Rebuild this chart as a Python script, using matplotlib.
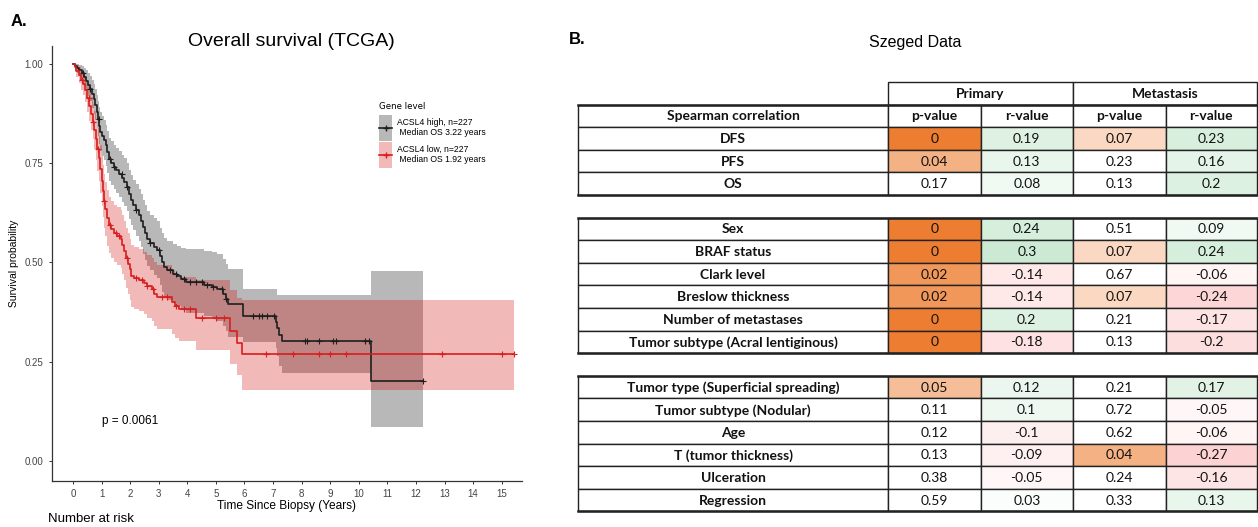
import numpy as np
import matplotlib
matplotlib.use("Agg")
import matplotlib.pyplot as plt
from matplotlib.patches import Rectangle, Patch
from matplotlib.lines import Line2D
from matplotlib.legend_handler import HandlerPatch

# ---- panel A: Kaplan-Meier ----
hi_t = [0.00, 0.08, 0.15, 0.22, 0.30, 0.38, 0.45, 0.52, 0.58, 0.65, 0.72, 0.78, 0.84, 0.88,
        0.92, 0.96, 1.02, 1.10, 1.16, 1.20, 1.25, 1.32, 1.42, 1.52, 1.62, 1.72, 1.80, 1.88,
        1.95, 2.02, 2.10, 2.20, 2.30, 2.38, 2.45, 2.52, 2.60, 2.70, 2.85, 2.95, 3.05, 3.12,
        3.20, 3.30, 3.50, 3.65, 3.78, 3.95, 4.60, 4.85, 5.05, 5.25, 5.35, 5.42, 5.94, 7.10,
        7.15, 7.22, 7.30, 10.44, 12.25]
hi_s = [1.000, 0.995, 0.990, 0.985, 0.978, 0.968, 0.958, 0.948, 0.938, 0.925, 0.912, 0.898,
        0.880, 0.862, 0.845, 0.830, 0.818, 0.808, 0.795, 0.778, 0.760, 0.750, 0.740, 0.732,
        0.722, 0.712, 0.703, 0.690, 0.672, 0.658, 0.645, 0.632, 0.620, 0.605, 0.590, 0.575,
        0.560, 0.550, 0.540, 0.532, 0.515, 0.500, 0.488, 0.480, 0.472, 0.465, 0.458, 0.450,
        0.444, 0.438, 0.432, 0.420, 0.408, 0.394, 0.366, 0.350, 0.335, 0.318, 0.303, 0.202,
        0.202]
hi_up = [1.000, 1.000, 1.000, 0.998, 0.995, 0.990, 0.984, 0.977, 0.970, 0.960, 0.950, 0.938,
         0.923, 0.907, 0.892, 0.879, 0.868, 0.859, 0.847, 0.831, 0.814, 0.805, 0.796, 0.789,
         0.780, 0.771, 0.763, 0.751, 0.734, 0.721, 0.709, 0.697, 0.686, 0.672, 0.658, 0.644,
         0.630, 0.620, 0.611, 0.604, 0.588, 0.574, 0.562, 0.555, 0.547, 0.541, 0.536, 0.534,
         0.530, 0.525, 0.520, 0.508, 0.497, 0.483, 0.432, 0.432, 0.417, 0.417, 0.417, 0.479,
         0.479]
hi_low = [1.000, 0.988, 0.978, 0.970, 0.960, 0.946, 0.932, 0.919, 0.906, 0.890, 0.874, 0.858,
          0.838, 0.818, 0.799, 0.782, 0.768, 0.757, 0.743, 0.725, 0.706, 0.695, 0.684, 0.675,
          0.664, 0.653, 0.643, 0.629, 0.610, 0.595, 0.581, 0.567, 0.554, 0.538, 0.522, 0.506,
          0.490, 0.480, 0.469, 0.460, 0.442, 0.426, 0.414, 0.405, 0.397, 0.389, 0.381, 0.373,
          0.366, 0.359, 0.352, 0.340, 0.327, 0.312, 0.300, 0.285, 0.265, 0.240, 0.220, 0.086,
          0.086]
hi_cens = [0.35, 0.6, 0.9, 1.3, 1.45, 1.7, 1.9, 2.2, 2.7, 3.0, 3.4, 3.6, 3.9, 4.1, 4.3, 4.5,
           4.7, 4.9, 5.2, 5.35, 6.3, 6.5, 6.6, 6.8, 7.05, 8.1, 8.2, 8.6, 9.1, 9.2, 10.2,
           10.35, 12.25]

lo_t = [0.00, 0.06, 0.12, 0.20, 0.28, 0.35, 0.42, 0.50, 0.57, 0.64, 0.70, 0.75, 0.80, 0.85,
        0.90, 0.95, 1.00, 1.04, 1.08, 1.13, 1.19, 1.26, 1.33, 1.42, 1.55, 1.68, 1.73, 1.78,
        1.85, 1.92, 1.98, 2.04, 2.15, 2.30, 2.48, 2.60, 2.75, 2.85, 2.94, 3.45, 3.58, 3.72,
        4.30, 5.50, 5.75, 5.92, 15.44]
lo_s = [1.000, 0.993, 0.983, 0.972, 0.960, 0.950, 0.935, 0.915, 0.895, 0.875, 0.855, 0.835,
        0.810, 0.785, 0.763, 0.735, 0.705, 0.680, 0.655, 0.635, 0.612, 0.595, 0.583, 0.573,
        0.566, 0.560, 0.545, 0.530, 0.512, 0.497, 0.483, 0.465, 0.460, 0.455, 0.448, 0.440,
        0.432, 0.420, 0.413, 0.400, 0.390, 0.382, 0.360, 0.326, 0.297, 0.269, 0.269]
lo_up = [1.000, 1.000, 0.998, 0.992, 0.984, 0.977, 0.966, 0.950, 0.934, 0.917, 0.900, 0.883,
         0.861, 0.839, 0.820, 0.795, 0.768, 0.745, 0.722, 0.703, 0.682, 0.666, 0.655, 0.645,
         0.639, 0.633, 0.619, 0.605, 0.588, 0.573, 0.560, 0.543, 0.538, 0.533, 0.527, 0.519,
         0.511, 0.500, 0.493, 0.480, 0.470, 0.462, 0.455, 0.430, 0.410, 0.405, 0.405]
lo_low = [1.000, 0.986, 0.968, 0.952, 0.936, 0.923, 0.904, 0.880, 0.856, 0.833, 0.810, 0.787,
          0.759, 0.731, 0.706, 0.675, 0.642, 0.615, 0.588, 0.567, 0.542, 0.524, 0.511, 0.501,
          0.493, 0.487, 0.471, 0.455, 0.436, 0.421, 0.406, 0.387, 0.382, 0.377, 0.369, 0.361,
          0.353, 0.340, 0.333, 0.320, 0.310, 0.301, 0.280, 0.245, 0.215, 0.178, 0.178]
lo_cens = [0.3, 0.55, 0.7, 0.88, 1.1, 1.3, 1.5, 1.6, 1.9, 2.2, 2.4, 2.6, 2.8, 3.1, 3.3, 3.6,
           3.9, 4.1, 4.5, 5.0, 5.3, 6.75, 7.7, 8.6, 9.0, 9.55, 12.9, 15.0, 15.44]

hi_label = "ACSL4 high, n=227\n Median OS 3.22 years"
lo_label = "ACSL4 low, n=227\n Median OS 1.92 years"
p_text = "p = 0.0061"

# ---- panel B: Szeged table ----
row_names = ["DFS", "PFS", "OS",
             "Sex", "BRAF status", "Clark level", "Breslow thickness",
             "Number of metastases", "Tumor subtype (Acral lentiginous)",
             "Tumor type (Superficial spreading)", "Tumor subtype (Nodular)", "Age",
             "T (tumor thickness)", "Ulceration", "Regression"]
block_sizes = [3, 6, 6]
prim_p = [0, 0.04, 0.17, 0, 0, 0.02, 0.02, 0, 0, 0.05, 0.11, 0.12, 0.13, 0.38, 0.59]
prim_r = [0.19, 0.13, 0.08, 0.24, 0.3, -0.14, -0.14, 0.2, -0.18, 0.12, 0.1, -0.1, -0.09, -0.05, 0.03]
met_p = [0.07, 0.23, 0.13, 0.51, 0.07, 0.67, 0.07, 0.21, 0.13, 0.21, 0.72, 0.62, 0.04, 0.24, 0.33]
met_r = [0.23, 0.16, 0.2, 0.09, 0.24, -0.06, -0.24, -0.17, -0.2, 0.17, -0.05, -0.06, -0.27, -0.16, 0.13]


def step_val(t, s, x):
    idx = np.searchsorted(t, x, side="right") - 1
    return np.asarray(s)[idx]


def p_color(p):
    k = max(0.0, 1 - p / 0.1)
    white = np.array([255, 255, 255])
    orange = np.array([237, 125, 49])
    return tuple((white + k * (orange - white)) / 255)


def r_color(r):
    k = min(1.0, abs(r) * 1.1)
    white = np.array([255, 255, 255])
    base = np.array([99, 190, 123]) if r > 0 else np.array([248, 105, 107])
    return tuple((white + k * (base - white)) / 255)


def tall_box(legend, orig_handle, xdescent, ydescent, width, height, fontsize):
    # box centred on the legend line, about two text lines tall
    yc = (height - ydescent) / 2
    h2 = 1.5 * fontsize
    return Rectangle((-xdescent, yc - h2), width, 2 * h2)


W, H = 1258, 527
fig = plt.figure(figsize=(W / 100, H / 100), dpi=100)
sans = ["Liberation Sans", "DejaVu Sans"]

ax = fig.add_axes([51.5 / W, 1 - 480.5 / H, 470 / W, 435 / H])
black = "#1e1e1e"
red = "#d81e1e"
ax.fill_between(hi_t, hi_low, hi_up, step="post", color="black", alpha=0.28, lw=0)
ax.fill_between(lo_t, lo_low, lo_up, step="post", color="#d30000", alpha=0.275, lw=0)
ax.step(hi_t, hi_s, where="post", color=black, lw=1.2)
ax.step(lo_t, lo_s, where="post", color=red, lw=1.2)
ax.plot(hi_cens, step_val(hi_t, hi_s, hi_cens), "+", color=black, ms=5, mew=0.8)
ax.plot(lo_cens, step_val(lo_t, lo_s, lo_cens), "+", color=red, ms=5, mew=0.8)

ax.set_xlim(-0.75, 15.69)
ax.set_ylim(-0.05, 1.047)
ax.set_xticks(range(16))
ax.set_yticks([0, 0.25, 0.5, 0.75, 1.0])
ax.set_yticklabels(["0.00", "0.25", "0.50", "0.75", "1.00"])
for sp in ["top", "right"]:
    ax.spines[sp].set_visible(False)
for sp in ["left", "bottom"]:
    ax.spines[sp].set_color("#333333")
    ax.spines[sp].set_linewidth(0.9)
ax.tick_params(labelsize=7, length=2.5, width=0.7, colors="#333333", labelcolor="#444444")
for lab in ax.get_xticklabels() + ax.get_yticklabels():
    lab.set_family(sans)
ax.set_xlabel("Time Since Biopsy (Years)", fontsize=8.6, family=sans, labelpad=0.5)
ax.set_ylabel("Survival probability", fontsize=7.5, family=sans, labelpad=4)
ax.text(1.0, 0.10, p_text, fontsize=8.5, family=sans, va="center")

handles = [(Patch(facecolor="black", alpha=0.28, lw=0),
            Line2D([], [], color=black, marker="+", lw=1.2, ms=4)),
           (Patch(facecolor="#d30000", alpha=0.275, lw=0),
            Line2D([], [], color=red, marker="+", lw=1.2, ms=4))]
leg = ax.legend(handles, [hi_label, lo_label], title="Gene level", loc="upper left",
                bbox_to_anchor=(0.685, 0.885), frameon=False,
                title_fontsize=6.2, handlelength=1.5, handleheight=0.7,
                labelspacing=0.85, handletextpad=0.5, borderpad=0.2,
                prop={"family": sans, "size": 6.2},
                handler_map={Patch: HandlerPatch(patch_func=tall_box)})
leg._legend_box.align = "left"

fig.text(19 / W, 1 - 22 / H, "A.", fontsize=12, weight="bold", family=sans, ha="center", va="center")
fig.text(291 / W, 1 - 41 / H, "Overall survival (TCGA)", fontsize=14, family=sans,
         ha="center", va="center")
fig.text(48 / W, 1 - 519 / H, "Number at risk", fontsize=9.5, family=sans, va="center")

# table drawn in pixel coordinates
tx = fig.add_axes([0, 0, 1, 1])
tx.set_xlim(0, W)
tx.set_ylim(H, 0)
tx.axis("off")

fig.text(577 / W, 1 - 40 / H, "B.", fontsize=12, weight="bold", family=sans, ha="center", va="center")
fig.text(915 / W, 1 - 42 / H, "Szeged Data", fontsize=11.5, family=sans, ha="center", va="center")

tfont = ["Lato", "DejaVu Sans"]
col_x = [578, 888, 980.5, 1073, 1165.5, 1257]
y0, rh = 82, 22.6
fs = 10


def cell(x0, x1, y, fc, txt, bold=False):
    tx.add_patch(Rectangle((x0, y), x1 - x0, rh, facecolor=fc, edgecolor="#222222", lw=1.0))
    tx.text((x0 + x1) / 2, y + rh / 2 + 0.5, txt, ha="center", va="center", fontsize=fs,
            family=tfont, weight="bold" if bold else "normal", color="#111111")


# group header
cell(col_x[1], col_x[3], y0, "white", "Primary", bold=True)
cell(col_x[3], col_x[5], y0, "white", "Metastasis", bold=True)
y = y0 + rh
cell(col_x[0], col_x[1], y, "white", "Spearman correlation", bold=True)
for i, name in enumerate(["p-value", "r-value", "p-value", "r-value"]):
    cell(col_x[i + 1], col_x[i + 2], y, "white", name, bold=True)
y += rh

k = 0
for b, n in enumerate(block_sizes):
    if b > 0:
        y += rh
    ytop = y if b > 0 else y0 + rh
    for j in range(n):
        cell(col_x[0], col_x[1], y, "white", row_names[k], bold=True)
        vals = [prim_p[k], prim_r[k], met_p[k], met_r[k]]
        cols = [p_color(prim_p[k]), r_color(prim_r[k]), p_color(met_p[k]), r_color(met_r[k])]
        for c in range(4):
            cell(col_x[c + 1], col_x[c + 2], y, cols[c], f"{vals[c]:g}")
        y += rh
        k += 1
    tx.plot([col_x[0], col_x[5]], [ytop, ytop], color="#222222", lw=1.8)
    tx.plot([col_x[0], col_x[5]], [y, y], color="#222222", lw=1.8)

fig.savefig("out.png", dpi=100)
